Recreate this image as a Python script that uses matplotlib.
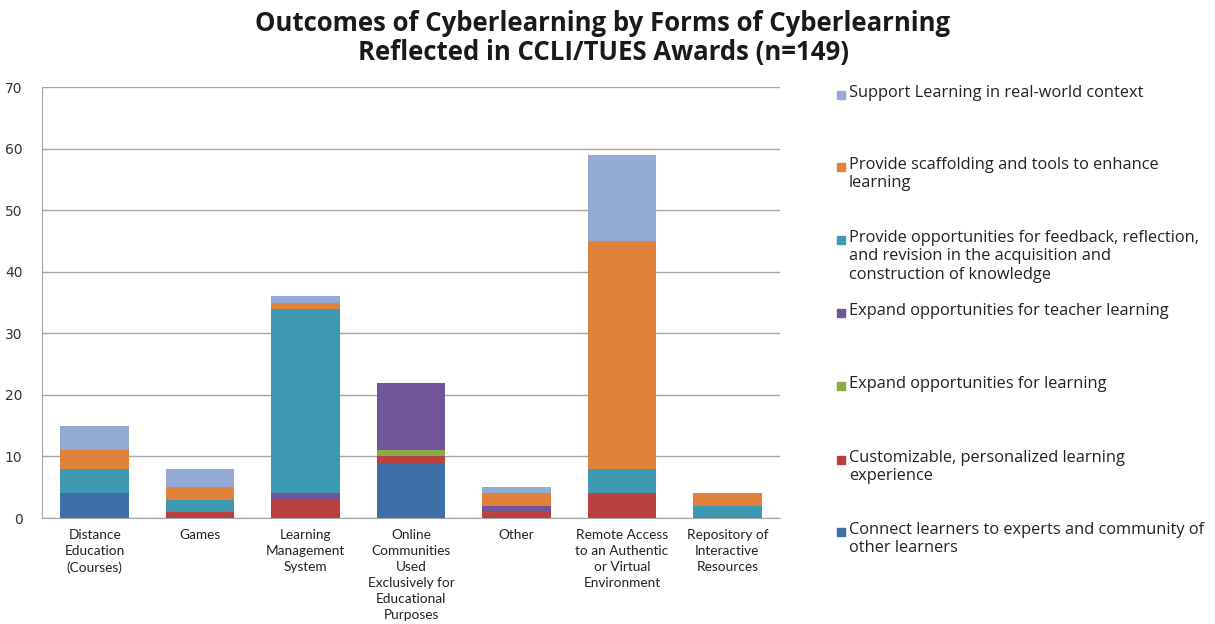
import numpy as np
import matplotlib.pyplot as plt
from matplotlib.patches import Rectangle

# forms of cyberlearning (x categories)
forms = ['Distance\nEducation\n(Courses)', 'Games', 'Learning\nManagement\nSystem',
         'Online\nCommunities\nUsed\nExclusively for\nEducational\nPurposes', 'Other',
         'Remote Access\nto an Authentic\nor Virtual\nEnvironment', 'Repository of\nInteractive\nResources']

# outcome counts per form, stacked bottom -> top
connect     = [4, 0, 0, 9, 0, 0, 0]
customize   = [0, 1, 3, 1, 1, 4, 0]
expand      = [0, 0, 0, 1, 0, 0, 0]
teacher     = [0, 0, 1, 11, 1, 0, 0]
feedback    = [4, 2, 30, 0, 0, 4, 2]
scaffolding = [3, 2, 1, 0, 2, 37, 2]
realworld   = [4, 3, 1, 0, 1, 14, 0]

series = [connect, customize, expand, teacher, feedback, scaffolding, realworld]
series_names = ['Connect learners to experts and community of\nother learners',
                'Customizable, personalized learning\nexperience',
                'Expand opportunities for learning',
                'Expand opportunities for teacher learning',
                'Provide opportunities for feedback, reflection,\nand revision in the acquisition and\nconstruction of knowledge',
                'Provide scaffolding and tools to enhance\nlearning',
                'Support Learning in real-world context']
colors = ['#3f6fa9', '#b9403f', '#8aac48', '#71559b', '#3d99b1', '#e0823a', '#93aad2']

fig = plt.figure(figsize=(12.15, 6.24), dpi=100)
ax = fig.add_axes([42/1215, 1-518/624, 738/1215, 431/624])

x = np.arange(len(forms))
bottom = np.zeros(len(forms))
for vals, c in zip(series, colors):
    ax.bar(x, vals, width=0.65, bottom=bottom, color=c, zorder=3)
    bottom += np.array(vals)

ax.set_xlim(-0.5, len(forms) - 0.5)
ax.set_ylim(0, 70)
ax.set_yticks(range(0, 71, 10))
ax.yaxis.grid(True, color='#a6a6a6', lw=1, zorder=0)
ax.set_xticks(x)
ax.set_xticklabels(forms, fontsize=9.8, family='Lato', color='#222222', linespacing=1.4)
ax.tick_params(axis='y', labelsize=10, colors='#333333', length=0, pad=14)
ax.tick_params(axis='x', length=0, pad=8)
for s in ['top', 'right']:
    ax.spines[s].set_visible(False)
ax.spines['left'].set_color('#a6a6a6')
ax.spines['bottom'].set_color('#a6a6a6')

fig.suptitle('Outcomes of Cyberlearning by Forms of Cyberlearning\nReflected in CCLI/TUES Awards (n=149)',
             x=603/1215, y=1-10/624, fontsize=18.5, fontweight='bold', family='Open Sans',
             color='#1a1a1a', linespacing=1.1, va='top')

# legend drawn top -> bottom in reverse stack order
ys = [95, 167, 240, 313, 386, 460, 532]
for yy, name, c in zip(ys, series_names[::-1], colors[::-1]):
    fig.patches.append(Rectangle((837/1215, 1-(yy+4)/624), 8/1215, 8/624,
                                 transform=fig.transFigure, color=c))
    fig.text(849/1215, 1-(yy-10)/624, name, fontsize=11.8, family='Open Sans',
             color='#222222', va='top', linespacing=1.2)

fig.savefig('out.png', dpi=100)
